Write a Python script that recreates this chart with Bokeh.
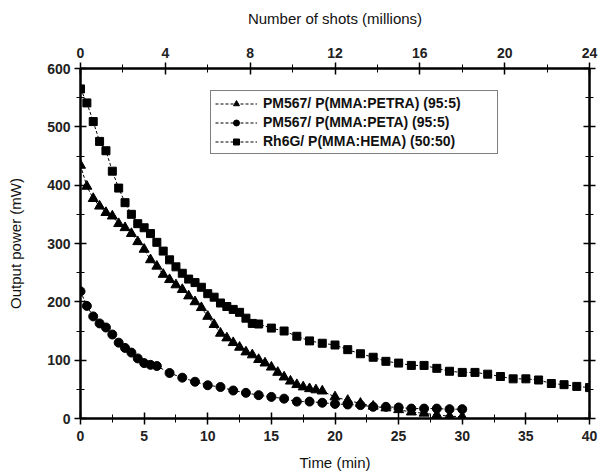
from bokeh.plotting import figure
from bokeh.models import (Range1d, LinearAxis, SingleIntervalTicker,
                          CustomJSTickFormatter, Legend, LegendItem)
from bokeh.embed import file_html
from bokeh.resources import INLINE

# ---- data ----
sq_t = [0, 0.5, 1, 1.5, 2, 2.5, 3, 3.5, 4, 4.5, 5, 5.5, 6, 6.5, 7, 7.5, 8, 8.5, 9, 9.5,
        10, 10.5, 11, 11.5, 12, 12.5, 13, 13.5, 14,
        15, 16, 17, 18, 19, 20, 21, 22, 23, 24, 25, 26, 27, 28, 29, 30,
        31, 32, 33, 34, 35, 36, 37, 38, 39, 40]
sq_v = [565, 541, 509, 475, 459, 424, 395, 370, 350, 334, 327, 317, 302, 287, 272, 260,
        249, 239, 233, 225, 214, 208, 198, 192, 187, 182, 172, 163, 162,
        155, 150, 141, 133, 129, 126, 118, 111, 105, 98, 95, 91, 91, 86, 81, 79,
        79, 76, 72, 68, 68, 66, 60, 58, 55, 53]

tri_t = [0, 0.5, 1, 1.5, 2, 2.5, 3, 3.5, 4, 4.5, 5, 5.5, 6, 6.5, 7, 7.5, 8, 8.5, 9, 9.5,
         10, 10.5, 11, 11.5, 12, 12.5, 13, 13.5, 14, 14.5, 15, 15.5, 16, 16.5, 17, 17.5,
         18, 18.5, 19, 20, 21, 22, 23, 24, 25, 26, 27, 28, 29, 30]
tri_v = [434, 398, 377, 364, 353, 347, 334, 327, 317, 303, 290, 272, 261, 247, 238, 229,
         221, 210, 200, 190, 175, 161, 146, 138, 130, 122, 114, 109, 101, 95, 88, 79,
         71, 64, 58, 54, 51, 49, 47, 37, 31, 26, 21, 18, 15, 11, 9, 6, 4, 3]

cir_t = [0, 0.5, 1, 1.5, 2, 2.5, 3, 3.5, 4, 4.5, 5, 5.5, 6,
         7, 8, 9, 10, 11, 12, 13, 14, 15, 16, 17, 18, 19, 20, 21, 22, 23, 24, 25,
         26, 27, 28, 29, 30]
cir_v = [218, 193, 175, 163, 156, 144, 130, 121, 113, 103, 95, 92, 90,
         78, 70, 63, 57, 54, 48, 44, 40, 37, 34, 29, 29, 27, 25, 24, 23, 20, 20, 19,
         17, 17, 17, 16, 16]

labels = ["PM567/ P(MMA:PETRA) (95:5)", "PM567/ P(MMA:PETA) (95:5)",
          "Rh6G/ P(MMA:HEMA) (50:50)"]

FONT = "Liberation Sans"

p = figure(width=598, height=473, output_backend="svg", toolbar_location=None,
           x_range=Range1d(0, 40), y_range=Range1d(0, 600),
           min_border_left=80, min_border_right=9, min_border_top=68,
           min_border_bottom=55,
           x_axis_label="Time (min)", y_axis_label="Output power (mW)")
p.grid.visible = False
p.outline_line_color = "black"
p.outline_line_width = 2
p.background_fill_color = "white"
p.border_fill_color = "white"

p.below[0].ticker = SingleIntervalTicker(interval=5, num_minor_ticks=2)
p.left[0].ticker = SingleIntervalTicker(interval=100, num_minor_ticks=2)

p.extra_x_ranges = {"shots": Range1d(0, 24)}
top = LinearAxis(x_range_name="shots", axis_label="Number of shots (millions)",
                 ticker=SingleIntervalTicker(interval=4, num_minor_ticks=2))
p.add_layout(top, "above")
right = LinearAxis(ticker=SingleIntervalTicker(interval=100, num_minor_ticks=2),
                   formatter=CustomJSTickFormatter(code="return ''"))
p.add_layout(right, "right")

for ax in p.axis:
    ax.axis_line_width = 2
    ax.axis_line_color = "black"
    ax.major_tick_in = 6
    ax.major_tick_out = 6
    ax.minor_tick_in = 4
    ax.minor_tick_out = 4
    ax.major_tick_line_width = 1.5
    ax.minor_tick_line_width = 1
    ax.major_tick_line_color = "black"
    ax.minor_tick_line_color = "black"
    ax.major_label_text_font = FONT
    ax.major_label_text_font_size = "14px"
    ax.major_label_text_font_style = "bold"
    ax.major_label_text_color = "#222222"
    ax.axis_label_text_font = FONT
    ax.axis_label_text_font_size = "15px"
    ax.axis_label_text_font_style = "normal"
    ax.axis_label_text_color = "#111111"
    ax.major_label_standoff = 6
    ax.axis_label_standoff = 10

p.left[0].major_label_standoff = 4
p.left[0].axis_label_standoff = 20
p.below[0].axis_label_standoff = 10
top.major_label_standoff = 5
top.axis_label_standoff = 18

dash = "3 2"
l1 = p.line(tri_t, tri_v, line_color="black", line_width=1, line_dash=dash)
s1 = p.scatter(tri_t, tri_v, marker="triangle", size=10, fill_color="black",
               line_color="black")
l2 = p.line(cir_t, cir_v, line_color="black", line_width=1, line_dash=dash)
s2 = p.scatter(cir_t, cir_v, marker="circle", size=9, fill_color="black",
               line_color="black")
l3 = p.line(sq_t, sq_v, line_color="black", line_width=1, line_dash=dash)
s3 = p.scatter(sq_t, sq_v, marker="square", size=8, fill_color="black",
               line_color="black")

legend = Legend(items=[LegendItem(label=labels[0], renderers=[l1, s1]),
                       LegendItem(label=labels[1], renderers=[l2, s2]),
                       LegendItem(label=labels[2], renderers=[l3, s3])],
                location=(130, 264), margin=0, padding=4, spacing=3,
                glyph_width=42, glyph_height=15, label_height=15,
                label_standoff=6, label_width=230,
                label_text_font=FONT, label_text_font_size="14px",
                label_text_font_style="bold",
                label_text_color="#111111",
                border_line_color="black", border_line_width=1,
                background_fill_alpha=1)
p.add_layout(legend, "center")

open("out.html", "w").write(file_html(p, INLINE))
